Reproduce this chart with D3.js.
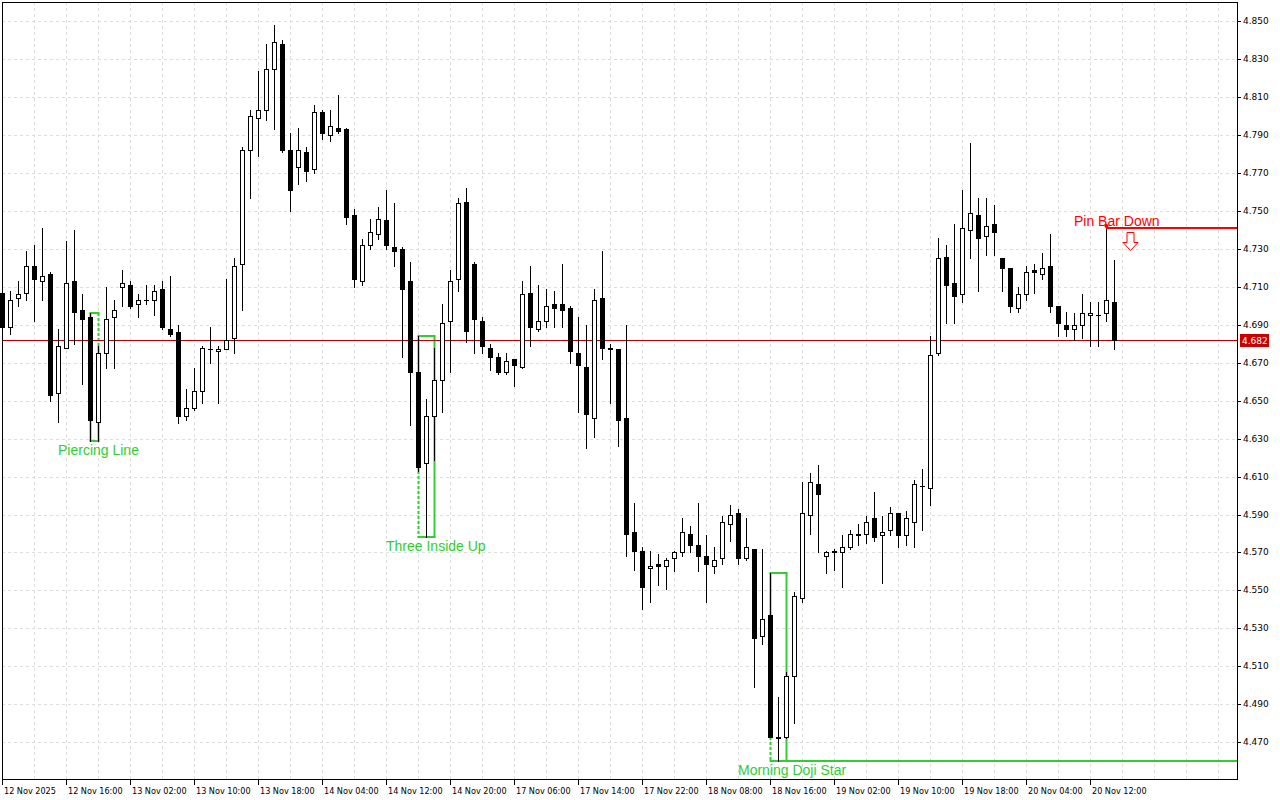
<!DOCTYPE html>
<html><head><meta charset="utf-8">
<script src="https://cdn.jsdelivr.net/npm/d3@7"></script>
<style>html,body{margin:0;padding:0;background:#fff;} svg{display:block}</style>
</head><body><svg id="c" width="1280" height="800"></svg>
<script>
// ---------- DATA (H1 candles, index 0..139) ----------
const open = [4.707,4.689,4.704,4.707,4.721,4.713,4.717,4.654,4.678,4.713,
4.698,4.694,4.639,4.675,4.694,4.710,4.711,4.701,4.703,4.703,
4.709,4.688,4.686,4.642,4.646,4.655,4.677,4.676,4.677,4.683,
4.722,4.782,4.799,4.803,4.825,4.838,4.782,4.773,4.781,4.772,
4.802,4.790,4.794,4.793,4.748,4.713,4.732,4.738,4.745,4.731,
4.730,4.713,4.665,4.617,4.642,4.661,4.692,4.714,4.755,4.722,
4.692,4.678,4.673,4.665,4.672,4.668,4.707,4.688,4.692,4.701,
4.701,4.699,4.675,4.668,4.641,4.704,4.677,4.677,4.641,4.581,
4.571,4.562,4.564,4.563,4.567,4.570,4.580,4.574,4.568,4.563,
4.567,4.585,4.591,4.567,4.572,4.526,4.537,4.473,4.473,4.505,
4.546,4.590,4.606,4.568,4.571,4.570,4.573,4.580,4.580,4.588,
4.579,4.582,4.591,4.579,4.586,4.605,4.604,4.675,4.726,4.712,
4.706,4.740,4.748,4.737,4.743,4.725,4.720,4.699,4.706,4.719,
4.717,4.721,4.700,4.690,4.688,4.690,4.695,4.695,4.696,4.702];
const high = [4.709,4.708,4.713,4.729,4.732,4.741,4.718,4.688,4.734,4.740,
4.706,4.696,4.679,4.710,4.703,4.719,4.713,4.706,4.711,4.711,
4.713,4.716,4.690,4.656,4.667,4.679,4.689,4.679,4.714,4.725,
4.784,4.803,4.824,4.838,4.848,4.840,4.791,4.794,4.784,4.806,
4.803,4.803,4.811,4.794,4.751,4.735,4.746,4.752,4.761,4.754,
4.731,4.723,4.684,4.651,4.678,4.701,4.719,4.757,4.762,4.723,
4.694,4.680,4.675,4.675,4.672,4.713,4.721,4.711,4.709,4.708,
4.722,4.700,4.694,4.690,4.709,4.729,4.680,4.677,4.690,4.596,
4.573,4.571,4.569,4.567,4.571,4.588,4.584,4.596,4.579,4.573,
4.589,4.595,4.593,4.588,4.572,4.572,4.559,4.494,4.507,4.549,
4.607,4.612,4.616,4.571,4.572,4.579,4.582,4.585,4.589,4.602,
4.589,4.594,4.591,4.592,4.608,4.614,4.684,4.736,4.732,4.743,
4.761,4.786,4.757,4.757,4.753,4.725,4.720,4.710,4.721,4.722,
4.728,4.738,4.700,4.697,4.696,4.706,4.702,4.702,4.741,4.724];
const low = [4.687,4.685,4.700,4.703,4.692,4.703,4.650,4.639,4.678,4.680,
4.659,4.629,4.629,4.667,4.667,4.700,4.699,4.694,4.701,4.695,
4.688,4.684,4.638,4.640,4.645,4.649,4.670,4.649,4.677,4.675,
4.698,4.757,4.779,4.798,4.793,4.781,4.750,4.764,4.766,4.770,
4.788,4.787,4.791,4.743,4.710,4.711,4.730,4.735,4.730,4.721,
4.673,4.637,4.613,4.578,4.619,4.644,4.665,4.708,4.681,4.675,
4.675,4.666,4.664,4.664,4.658,4.667,4.679,4.687,4.689,4.689,
4.689,4.670,4.644,4.625,4.631,4.672,4.649,4.626,4.568,4.561,
4.540,4.544,4.553,4.551,4.560,4.568,4.570,4.560,4.544,4.559,
4.564,4.576,4.564,4.566,4.499,4.522,4.473,4.460,4.472,4.480,
4.544,4.580,4.570,4.559,4.561,4.552,4.572,4.574,4.575,4.576,
4.554,4.579,4.573,4.574,4.573,4.582,4.595,4.674,4.691,4.691,
4.702,4.725,4.708,4.727,4.727,4.708,4.697,4.697,4.703,4.707,
4.714,4.697,4.684,4.684,4.682,4.683,4.679,4.679,4.692,4.677];
const close = [4.689,4.703,4.706,4.721,4.714,4.716,4.653,4.679,4.712,4.697,
4.693,4.640,4.675,4.693,4.698,4.712,4.700,4.703,4.703,4.708,
4.689,4.685,4.642,4.646,4.655,4.678,4.677,4.677,4.682,4.721,
4.782,4.800,4.803,4.825,4.839,4.782,4.761,4.782,4.771,4.802,
4.791,4.795,4.792,4.747,4.714,4.732,4.739,4.746,4.732,4.729,
4.709,4.665,4.615,4.642,4.661,4.691,4.713,4.754,4.687,4.693,
4.679,4.673,4.665,4.671,4.669,4.706,4.689,4.692,4.700,4.699,
4.698,4.676,4.669,4.643,4.703,4.678,4.678,4.640,4.580,4.571,
4.552,4.563,4.563,4.566,4.570,4.581,4.574,4.568,4.564,4.566,
4.586,4.590,4.567,4.573,4.525,4.535,4.473,4.472,4.505,4.547,
4.591,4.607,4.601,4.570,4.570,4.573,4.580,4.579,4.586,4.578,
4.581,4.591,4.579,4.588,4.606,4.605,4.674,4.725,4.711,4.705,
4.741,4.749,4.736,4.742,4.739,4.720,4.700,4.706,4.718,4.718,
4.720,4.700,4.691,4.688,4.690,4.696,4.696,4.695,4.703,4.682];

const xTickLabels = ["12 Nov 2025","12 Nov 16:00","13 Nov 02:00","13 Nov 10:00","13 Nov 18:00",
"14 Nov 04:00","14 Nov 12:00","14 Nov 20:00","17 Nov 06:00","17 Nov 14:00","17 Nov 22:00",
"18 Nov 08:00","18 Nov 16:00","19 Nov 02:00","19 Nov 10:00","19 Nov 18:00","20 Nov 04:00","20 Nov 12:00"];
const xTickIndex = [0,8,16,24,32,40,48,56,64,72,80,88,96,104,112,120,128,136];
const yTickValues = [4.470,4.490,4.510,4.530,4.550,4.570,4.590,4.610,4.630,4.650,
4.670,4.690,4.710,4.730,4.750,4.770,4.790,4.810,4.830,4.850];

const patternNames = ["Piercing Line","Three Inside Up","Morning Doji Star"];
const patternStart = [11,52,96];
const patternEnd = [12,54,98];
const patternExtend = [false,false,true];
const pinBarName = "Pin Bar Down";
const pinBarIndex = 138;

// ---------- LAYOUT ----------
const L = 2, R = 1238, T = 2, B = 779;
const GREEN = "#32cd32", RED = "#ff0000";
const svg = d3.select("#c");
svg.append("rect").attr("width",1280).attr("height",800).attr("fill","#fff");

const x = d3.scaleLinear().domain([0,1]).range([2,10]);
const y = d3.scaleLinear().domain([4.470,4.850]).range([742.2,21.3]);
const lastIdx = open.length - 1;
const maxIdx = x.invert(R);
const cx = i => Math.round(x(i));
const cy = v => Math.round(y(v));

// ---------- GRID ----------
const grid = svg.append("g").attr("stroke","#dedede").attr("stroke-dasharray","3,3").attr("stroke-width",1);
grid.selectAll("line.h").data(yTickValues).join("line")
  .attr("x1",L).attr("x2",R).attr("y1",d=>cy(d)+0.5).attr("y2",d=>cy(d)+0.5);
grid.selectAll("line.v").data(d3.range(4, maxIdx, 4)).join("line")
  .attr("y1",T).attr("y2",B).attr("x1",d=>cx(d)+0.5).attr("x2",d=>cx(d)+0.5);

// ---------- PATTERN BOXES (behind candles) ----------
const pg = svg.append("g").attr("fill","none");
function edge(g, xx, yt, yb, candle, dashOutside){
  const ch = cy(high[candle]), cl = cy(low[candle]);
  if (!dashOutside) {
    g.append("line").attr("x1",xx).attr("x2",xx).attr("y1",yt).attr("y2",yb);
    return;
  }
  const s0 = Math.max(yt, ch), s1 = Math.min(yb, cl);
  if (s1 > s0) g.append("line").attr("x1",xx).attr("x2",xx).attr("y1",s0).attr("y2",s1);
  if (ch > yt) g.append("line").attr("x1",xx).attr("x2",xx).attr("y1",yt).attr("y2",ch).attr("stroke-dasharray","3,2");
  if (cl < yb) g.append("line").attr("x1",xx).attr("x2",xx).attr("y1",cl).attr("y2",yb).attr("stroke-dasharray","3,2");
}
patternNames.forEach((name,p)=>{
  const i0 = patternStart[p], i1 = patternEnd[p];
  const hi = d3.max(high.slice(i0,i1+1)), lo = d3.min(low.slice(i0,i1+1));
  const x0 = cx(i0)+0.5, x1 = cx(i1)+0.5, yt = cy(hi), yb = cy(lo);
  const g = pg.append("g").attr("stroke",GREEN).attr("stroke-width",2);
  g.append("line").attr("x1",x0-1).attr("x2",x1+1).attr("y1",yt).attr("y2",yt);
  g.append("line").attr("x1",x0-1).attr("x2",patternExtend[p]?R:x1+1).attr("y1",yb).attr("y2",yb);
  edge(g, x0, yt, yb, i0, true);
  edge(g, x1, yt, yb, i1, (i1 - i0) === 1);
  svg.append("text").attr("x",x(i0-4)).attr("y",yb+14).attr("fill",GREEN)
    .attr("font-family","Liberation Sans, Arial, sans-serif").attr("font-size",14).text(name);
});

// ---------- CURRENT PRICE LINE ----------
const lastPrice = close[lastIdx];
svg.append("line").attr("x1",L).attr("x2",R).attr("y1",cy(lastPrice)+0.5).attr("y2",cy(lastPrice)+0.5)
  .attr("stroke","#b40000").attr("stroke-width",1);

// ---------- CANDLES ----------
const data = d3.range(open.length).map(i=>({i,o:open[i],h:high[i],l:low[i],c:close[i]}));
const cg = svg.append("g");
cg.selectAll("line.wick").data(data).join("line")
  .attr("x1",d=>cx(d.i)+0.5).attr("x2",d=>cx(d.i)+0.5)
  .attr("y1",d=>cy(d.h)).attr("y2",d=>cy(d.l)+1)
  .attr("stroke","#000").attr("stroke-width",1);
data.forEach(d=>{
  const t = cy(Math.max(d.o,d.c)), b = cy(Math.min(d.o,d.c)), X = cx(d.i);
  if (b - t < 1) {
    cg.append("line").attr("x1",X-2).attr("x2",X+3).attr("y1",t+0.5).attr("y2",t+0.5).attr("stroke","#000");
  } else if (d.c < d.o) {
    cg.append("rect").attr("x",X-2).attr("y",t).attr("width",5).attr("height",b-t+1).attr("fill","#000");
  } else {
    cg.append("rect").attr("x",X-1.5).attr("y",t+0.5).attr("width",4).attr("height",b-t)
      .attr("fill","#fff").attr("stroke","#000").attr("stroke-width",1);
  }
});

// ---------- PIN BAR ----------
const ph = high[pinBarIndex], py = cy(ph);
svg.append("line").attr("x1",cx(pinBarIndex)).attr("x2",R).attr("y1",py).attr("y2",py)
  .attr("stroke",RED).attr("stroke-width",2);
svg.append("circle").attr("cx",cx(pinBarIndex)+0.5).attr("cy",py-2).attr("r",2).attr("fill",RED);
svg.append("text").attr("x",x(pinBarIndex-4)).attr("y",py-2).attr("fill",RED)
  .attr("font-family","Liberation Sans, Arial, sans-serif").attr("font-size",14).text(pinBarName);
const ax = cx(pinBarIndex+3)+0.5, ay = py+4.5;
svg.append("path")
  .attr("d",`M${ax-3.5},${ay}H${ax+3.5}V${ay+10}H${ax+7.5}L${ax},${ay+18}L${ax-7.5},${ay+10}H${ax-3.5}Z`)
  .attr("fill","#fff").attr("stroke",RED).attr("stroke-width",1);

// ---------- FRAME ----------
svg.append("rect").attr("x",L+0.5).attr("y",T+0.5).attr("width",R-L-1).attr("height",B-T)
  .attr("fill","none").attr("stroke","#000").attr("stroke-width",1);

// ---------- AXES ----------
const yAxis = svg.append("g").attr("transform",`translate(${R-1},0)`)
  .call(d3.axisRight(y).tickValues(yTickValues).tickSize(4).tickPadding(2).tickFormat(d3.format(".3f")));
yAxis.select(".domain").remove();
yAxis.selectAll("line").attr("transform",d=>`translate(0,${cy(d)-y(d)})`);
yAxis.selectAll("text").attr("font-family","DejaVu Sans, sans-serif").attr("font-size",9).attr("fill","#000")
  .attr("transform",d=>`translate(0,${cy(d)-y(d)})`);

const xAxis = svg.append("g").attr("transform",`translate(0,${B})`)
  .call(d3.axisBottom(x).tickValues(xTickIndex).tickSize(6).tickPadding(3).tickFormat((d,i)=>xTickLabels[i]));
xAxis.select(".domain").remove();
xAxis.selectAll("text").attr("font-family","DejaVu Sans Condensed, DejaVu Sans, sans-serif").attr("font-size",9)
  .attr("fill","#000").attr("text-anchor","start").attr("x",1.5);

// ---------- LAST PRICE LABEL ----------
const lpY = cy(lastPrice);
svg.append("rect").attr("x",R+2).attr("y",lpY-6).attr("width",29).attr("height",13).attr("fill","#c80000");
svg.append("text").attr("x",R+4).attr("y",lpY+4).attr("fill","#fff")
  .attr("font-family","DejaVu Sans, sans-serif").attr("font-size",9).text(d3.format(".3f")(lastPrice));
</script></body></html>
